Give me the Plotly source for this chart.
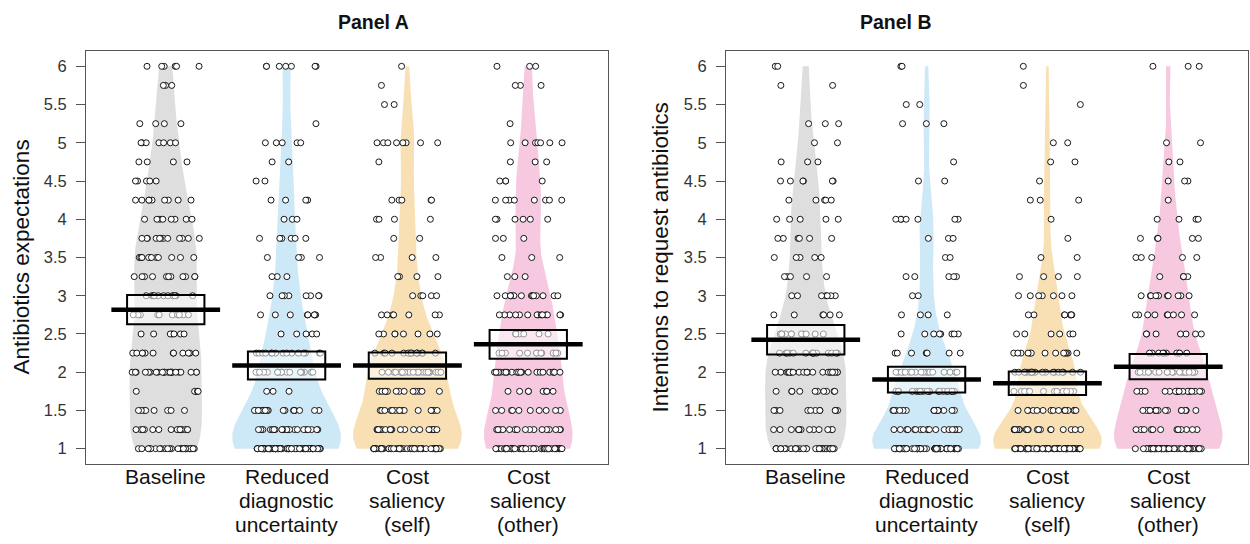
import numpy as np
import plotly.graph_objects as go

# ---------------- data ----------------
levels = [1.0, 1.25, 1.5, 1.75, 2.0, 2.25, 2.5, 2.75, 3.0, 3.25, 3.5,
          3.75, 4.0, 4.25, 4.5, 4.75, 5.0, 5.25, 5.5, 5.75, 6.0]

categories = ["Baseline", "Reduced diagnostic uncertainty",
              "Cost saliency (self)", "Cost saliency (other)"]
category_lines = [["Baseline"],
                  ["Reduced", "diagnostic", "uncertainty"],
                  ["Cost", "saliency", "(self)"],
                  ["Cost", "saliency", "(other)"]]

panel_titles = ["Panel A", "Panel B"]
y_titles = ["Antibiotics expectations", "Intentions to request antibiotics"]
y_ticks = [1, 1.5, 2, 2.5, 3, 3.5, 4, 4.5, 5, 5.5, 6]
y_tick_labels = ["1", "1.5", "2", "2.5", "3", "3.5", "4", "4.5", "5", "5.5", "6"]

# number of respondents at each response level (levels above), per condition
counts_A_baseline = [26, 16, 8, 5, 24, 12, 7, 10, 12, 11, 12, 12, 8, 9, 5, 4, 7, 4, 0, 3, 6]
counts_A_reduced  = [68, 21, 20, 3, 18, 15, 5, 8, 8, 3, 4, 6, 3, 4, 2, 2, 5, 1, 0, 0, 7]
counts_A_self     = [51, 20, 15, 13, 24, 15, 8, 7, 5, 4, 4, 2, 4, 5, 0, 1, 8, 0, 2, 1, 1]
counts_A_other    = [49, 16, 10, 8, 23, 13, 6, 14, 14, 3, 3, 3, 6, 8, 4, 3, 7, 1, 0, 3, 3]

counts_B_baseline = [31, 13, 11, 10, 22, 14, 11, 6, 7, 5, 5, 6, 5, 5, 6, 3, 2, 3, 0, 2, 2]
counts_B_reduced  = [63, 18, 16, 19, 18, 7, 8, 4, 2, 5, 2, 3, 7, 0, 2, 1, 0, 3, 2, 0, 2]
counts_B_self     = [62, 21, 15, 13, 19, 13, 6, 7, 7, 4, 2, 1, 1, 3, 1, 2, 2, 0, 1, 1, 1]
counts_B_other    = [53, 12, 15, 18, 20, 10, 7, 9, 11, 5, 5, 5, 4, 1, 3, 2, 2, 0, 0, 0, 3]

panel_counts = [
    [counts_A_baseline, counts_A_reduced, counts_A_self, counts_A_other],
    [counts_B_baseline, counts_B_reduced, counts_B_self, counts_B_other],
]

bean_colors = ["#dedede", "#cde8f6", "#f9e0b4", "#f6c9e1"]

FONT = "Liberation Sans, Arial, sans-serif"
W, H = 1250, 544
M_T, M_B = 51, 80
PLOT_H = H - M_T - M_B
x_domains = [[86 / W, 608 / W], [726 / W, 1248 / W]]


def py(p):  # pixel row -> paper y
    return (H - M_B - p) / PLOT_H


def kde(vals, grid, bw):
    z = (grid[:, None] - vals[None, :]) / bw
    return np.exp(-0.5 * z ** 2).sum(axis=1) / (len(vals) * bw * np.sqrt(2 * np.pi))


def jitter(k, g, p):
    # deterministic scatter offset for point index k (position only)
    h = np.sin(k * 78.233 + g * 12.9898 + p * 4.1414 + 1.7) * 43758.5453
    return (h - np.floor(h) - 0.5) * 0.56


fig = go.Figure()
shapes = []
annotations = []

for p, groups in enumerate(panel_counts):
    xa = "x" if p == 0 else "x2"
    ya = "y" if p == 0 else "y2"
    for g, cnt in enumerate(groups):
        c = g + 1
        vals = np.repeat(np.array(levels), cnt)
        n = len(vals)
        sd = vals.std(ddof=1)
        q75, q25 = np.percentile(vals, [75, 25])
        lo = min(sd, (q75 - q25) / 1.34) if q75 > q25 else sd
        bw = 0.9 * lo * n ** (-0.2)
        ext = np.linspace(vals.min() - 3 * bw, vals.max() + 3 * bw, 512)
        dmax = kde(vals, ext, bw).max()
        scale = 1.0
        if dmax < 0.3:
            scale = 0.3 / dmax
        elif dmax > 0.45:
            scale = 0.45 / dmax
        grid = np.linspace(vals.min(), vals.max(), 300)
        d = kde(vals, grid, bw) * scale
        fig.add_trace(go.Scatter(
            x=np.concatenate([c + d, (c - d)[::-1]]),
            y=np.concatenate([grid, grid[::-1]]),
            fill="toself", fillcolor=bean_colors[g], mode="lines",
            line=dict(width=0, color=bean_colors[g]),
            hoverinfo="skip", showlegend=False, xaxis=xa, yaxis=ya))
        k = np.arange(n)
        fig.add_trace(go.Scatter(
            x=c + jitter(k, g, p), y=vals, mode="markers",
            marker=dict(size=6, color="white", line=dict(color="black", width=0.9)),
            hoverinfo="skip", showlegend=False, xaxis=xa, yaxis=ya))
        m = vals.mean()
        ci = 1.96 * sd / np.sqrt(n)
        shapes.append(dict(type="rect", xref=xa, yref=ya, x0=c - 0.32, x1=c + 0.32,
                           y0=m - ci, y1=m + ci, fillcolor="rgba(255,255,255,0.55)",
                           line=dict(color="black", width=2), layer="above"))
        shapes.append(dict(type="line", xref=xa, yref=ya, x0=c - 0.45, x1=c + 0.45,
                           y0=m, y1=m, line=dict(color="black", width=4.5), layer="above"))
        for j, txt in enumerate(category_lines[g]):
            annotations.append(dict(x=c, xref=xa, y=py(476 + 24 * j), yref="paper",
                                    text=txt, showarrow=False, yanchor="middle",
                                    font=dict(family=FONT, size=21, color="#111")))

title_x = [336, 934]
ytitle_x = [21, 660]
for p in range(2):
    annotations.append(dict(x=title_x[p] / W, xref="paper", y=py(22), yref="paper",
                            text="<b>%s</b>" % panel_titles[p], showarrow=False,
                            yanchor="middle", font=dict(family=FONT, size=19.5, color="#111")))
    annotations.append(dict(x=ytitle_x[p] / W, xref="paper", y=py(257.5), yref="paper",
                            text=y_titles[p], textangle=-90, showarrow=False,
                            xanchor="center", yanchor="middle",
                            font=dict(family=FONT, size=22.5, color="#111")))

axis_common = dict(showgrid=False, zeroline=False, showline=True, mirror=True,
                   linecolor="#555", linewidth=1, fixedrange=True)
xcommon = dict(axis_common, range=[0.34, 4.66], showticklabels=False, ticks="")
ycommon = dict(axis_common, range=[0.8, 6.2], tickvals=y_ticks, ticktext=y_tick_labels,
               ticks="outside", ticklen=9, tickwidth=1, tickcolor="#555",
               ticklabelstandoff=6,
               tickfont=dict(family=FONT, size=16.5, color="#333"))

fig.update_layout(
    width=W, height=H,
    margin=dict(l=0, r=0, t=M_T, b=M_B),
    paper_bgcolor="white", plot_bgcolor="white",
    xaxis=dict(xcommon, domain=x_domains[0], anchor="y"),
    yaxis=dict(ycommon, anchor="x"),
    xaxis2=dict(xcommon, domain=x_domains[1], anchor="y2"),
    yaxis2=dict(ycommon, anchor="x2"),
    shapes=shapes, annotations=annotations,
    font=dict(family=FONT),
)

fig.write_html("out.html", config={"displayModeBar": False},
               post_script="document.body.style.margin='0';")
